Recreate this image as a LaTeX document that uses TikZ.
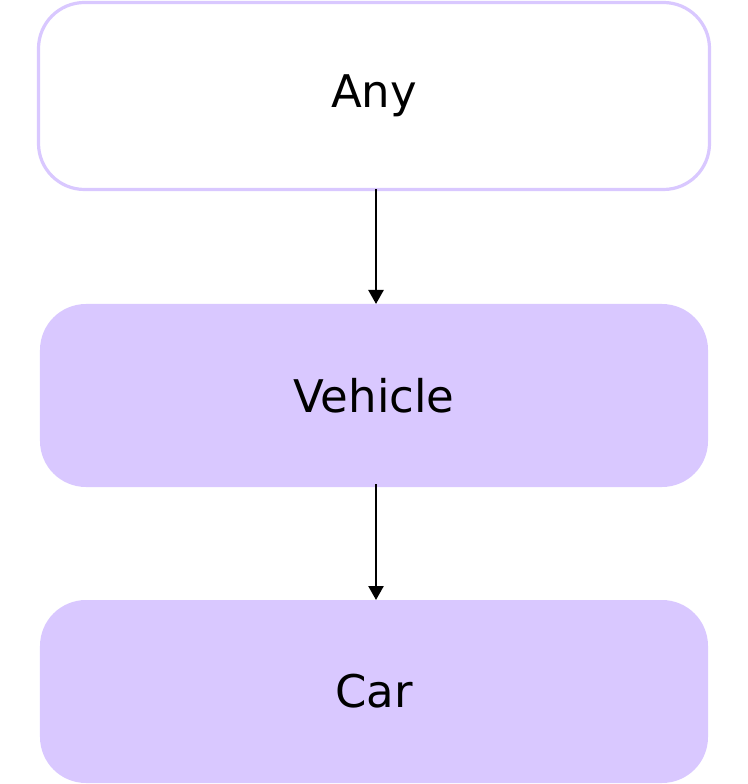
\documentclass[tikz,border=0pt]{standalone}
\usepackage{fontspec}
\setmainfont{DejaVu Sans}
\usetikzlibrary{positioning,arrows.meta}
\definecolor{lavender}{HTML}{D9C8FF}

\tikzset{
	typebox/.style={rounded corners=46bp,minimum width=668bp,minimum height=183bp,
		inner sep=0pt,outer sep=0pt,font=\fontsize{45bp}{54bp}\selectfont},
	filledbox/.style={typebox,fill=lavender},
	openbox/.style={typebox,draw=lavender,line width=3.2bp,minimum width=671bp,minimum height=187bp,fill=white},
	inherit/.style={line width=2.5bp,-{Triangle[width=15bp,length=14bp]}}
}

\begin{document}
\begin{tikzpicture}[x=1bp,y=1bp]
	\useasboundingbox (0,0) rectangle (748,784);
	\node[openbox] (any) at (374,688) {Any};
	\node[filledbox,below=114.5bp of any] (vehicle) {Vehicle};
	\node[filledbox,below=113bp of vehicle] (car) {Car};
	% arrows sit slightly right of the centre line
	\draw[inherit] ([xshift=2bp]any.south) -- ([xshift=2bp]vehicle.north);
	\draw[inherit] ([xshift=2bp,yshift=3bp]vehicle.south) -- ([xshift=2bp]car.north);
\end{tikzpicture}
\end{document}
